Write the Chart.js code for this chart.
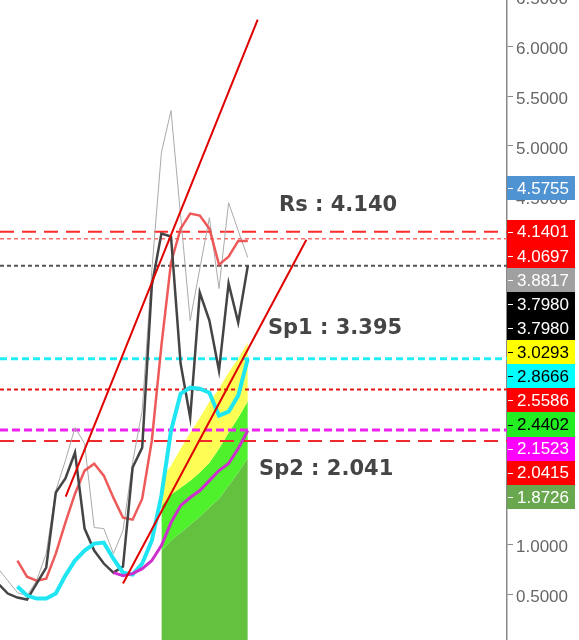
<!DOCTYPE html>
<html><head><meta charset="utf-8">
<script src="https://cdn.jsdelivr.net/npm/chart.js@4"></script>
<style>html,body{margin:0;padding:0;background:#fff;overflow:hidden}canvas{display:block}</style>
</head><body>
<canvas id="c" width="579" height="640"></canvas>
<script>
// ---- data (x = bar index) ----
const blackClose = [0.611,0.511,0.471,0.451,0.611,0.772,1.524,1.665,1.926,1.163,0.942,0.812,0.721,0.782,1.775,1.975,3.600,4.122,4.092,2.818,2.277,3.530,3.249,2.748,3.621,3.229,3.798];
const grayHigh   = [0.761,0.641,0.520,0.490,0.641,0.912,1.544,1.845,2.176,2.015,1.173,1.163,0.912,1.143,1.825,2.347,3.751,4.934,5.355,4.302,3.249,3.770,4.281,3.570,4.432,4.151,3.880];
const salmonStart = 2;
const salmonMA   = [0.841,0.680,0.640,0.660,0.911,1.222,1.513,1.744,1.814,1.694,1.473,1.272,1.252,1.462,2.044,2.997,3.830,4.171,4.322,4.302,4.171,3.810,3.890,4.048,4.048];
const cyanStart = 2;
const cyanLine   = [0.581,0.491,0.461,0.461,0.511,0.691,0.842,0.942,1.012,1.022,0.860,0.721,0.701,0.812,1.042,1.493,2.145,2.516,2.576,2.566,2.526,2.295,2.335,2.496,2.867];
const magentaStart = 12;
const magentaLine = [0.721,0.691,0.711,0.761,0.842,0.992,1.223,1.393,1.474,1.544,1.644,1.745,1.815,1.965,2.146];
const cloudStart = 17;
const cloudDark   = [0.941,1.042,1.122,1.202,1.282,1.373,1.463,1.593,1.724,1.870];
const cloudBright = [1.392,1.503,1.573,1.643,1.724,1.824,1.964,2.125,2.275,2.440];
const cloudYellow = [1.664,1.794,1.964,2.125,2.275,2.436,2.566,2.727,2.867,3.029];
const trendUpper = [[7.03,1.484],[27.03,6.268]];
const trendLower = [[13.0,0.611],[32.1,4.060]];
const levelValues = [4.1401,4.0697,3.7980,2.8666,2.5586,2.1523,2.0415];
const priceLabels = [4.5755,4.1401,4.0697,3.8817,3.7980,3.7980,3.0293,2.8666,2.5586,2.4402,2.1523,2.0415,1.8726];
const tickValues = [0,0.5,1,1.5,2,2.5,3,3.5,4,4.5,5,5.5,6,6.5];
const noteTexts = ['Rs : 4.140','Sp1 : 3.395','Sp2 : 2.041'];

// ---- styles / layout ----
const X_MIN = 0.1875, X_MAX = 53.0;
const Y_MIN = 0.0451, Y_MAX = 6.4644;
const levelStyles = [
  {c:'#ff2a2a', w:2,   d:[14,8]},
  {c:'#ff6a6a', w:1.5, d:[4,3]},
  {c:'#555555', w:2,   d:[4,3]},
  {c:'#22eef8', w:3,   d:[7,4]},
  {c:'#e51515', w:2,   d:[4,3]},
  {c:'#ee22ee', w:3,   d:[8,4]},
  {c:'#ee2a2a', w:2,   d:[14,8]}
];
const labelBg = ['#4f93d2','#ff0000','#ff0000','#a0a0a0','#000000','#000000','#ffff00','#00ffff','#ff0000','#22ee22','#ff00ff','#ff0000','#6aa84f'];
const labelFg = ['#fff','#fff','#fff','#fff','#fff','#fff','#000','#000','#fff','#000','#fff','#fff','#fff'];
const notePos = [[29.25,4.348],[28.1,3.114],[27.17,1.700]];
const LABEL_H = 24.1;

const pts = (arr, start) => arr.map((v,i)=>({x:i+start, y:v}));
const line = (data, color, width, order, extra) => Object.assign({
  data, borderColor:color, borderWidth:width, pointRadius:0, tension:0, fill:false, order
}, extra||{});

const datasets = [
  line(pts(cloudDark,cloudStart),'#63c13f',0,9,{fill:'start',backgroundColor:'#63c13f'}),
  line(pts(cloudBright,cloudStart),'#4ff02c',0,8,{fill:'-1',backgroundColor:'#4ff02c'}),
  line(pts(cloudYellow,cloudStart),'#fdfd55',0,7,{fill:'-1',backgroundColor:'#fdfd55'}),
];
levelValues.forEach((v,i)=>{
  const s = levelStyles[i];
  datasets.push(line([{x:X_MIN,y:v},{x:X_MAX,y:v}], s.c, s.w, 6, {borderDash:s.d}));
});
datasets.push(line(pts(grayHigh,0),'#aaaaaa',1,5));
datasets.push(line(pts(salmonMA,salmonStart),'rgba(236,72,72,0.9)',2.5,4));
datasets.push(line(pts(blackClose,0),'#444444',2.5,3));
datasets.push(line(pts(cyanLine,cyanStart),'#1fe6f2',4,2));
datasets.push(line(pts(magentaLine,magentaStart),'#cc2fcc',3,1));
datasets.push(line(trendUpper.map(p=>({x:p[0],y:p[1]})),'#e00000',2,0));
datasets.push(line(trendLower.map(p=>({x:p[0],y:p[1]})),'#e00000',2,0));

const notesPlugin = {
  id:'notes',
  afterDatasetsDraw(chart){
    const ctx = chart.ctx, xs = chart.scales.x, ys = chart.scales.y;
    ctx.save();
    ctx.font = 'bold 21px "DejaVu Sans", Verdana, sans-serif';
    ctx.fillStyle = '#454545';
    ctx.textAlign = 'left';
    ctx.textBaseline = 'alphabetic';
    noteTexts.forEach((t,i)=>{
      ctx.fillText(t, xs.getPixelForValue(notePos[i][0]), ys.getPixelForValue(notePos[i][1]));
    });
    ctx.restore();
  }
};
const labelsPlugin = {
  id:'priceLabels',
  afterDraw(chart){
    const ctx = chart.ctx, ys = chart.scales.y;
    let prev = -1e9;
    ctx.save();
    ctx.font = '17px "Liberation Sans", Arial, sans-serif';
    ctx.textBaseline = 'middle';
    ctx.textAlign = 'left';
    priceLabels.forEach((v,i)=>{
      let y = ys.getPixelForValue(v);
      if (y < prev + LABEL_H) y = prev + LABEL_H;
      prev = y;
      const left = Math.round(ys.left);
      ctx.fillStyle = labelBg[i];
      ctx.fillRect(left, Math.round(y - LABEL_H/2), 68, Math.round(y + LABEL_H/2) - Math.round(y - LABEL_H/2));
      ctx.fillStyle = labelFg[i];
      ctx.fillRect(left+1, Math.round(y), 5, 1);
      ctx.fillText(v.toFixed(4), left + 10, y + 1);
    });
    ctx.restore();
  }
};

new Chart(document.getElementById('c'), {
  type:'line',
  data:{datasets},
  options:{
    responsive:false, animation:false,
    layout:{padding:0},
    plugins:{legend:{display:false}, tooltip:{enabled:false}},
    scales:{
      x:{type:'linear', min:X_MIN, max:X_MAX, display:false},
      y:{type:'linear', position:'right', min:Y_MIN, max:Y_MAX,
        afterBuildTicks: s => { s.ticks = tickValues.map(v=>({value:v})); },
        afterFit: s => { s.width = 72; s.paddingTop = 0; s.paddingBottom = 0; },
        ticks:{autoSkip:false, padding:3, labelOffset:3, color:'#666',
          font:{family:'"Liberation Sans", Arial, sans-serif', size:17},
          callback: v => Number(v).toFixed(4)},
        grid:{drawOnChartArea:false, drawTicks:true, tickLength:6, color:'#888', lineWidth:1},
        border:{display:true, color:'#888', width:1.5}
      }
    }
  },
  plugins:[notesPlugin, labelsPlugin]
});
</script>
</body></html>
